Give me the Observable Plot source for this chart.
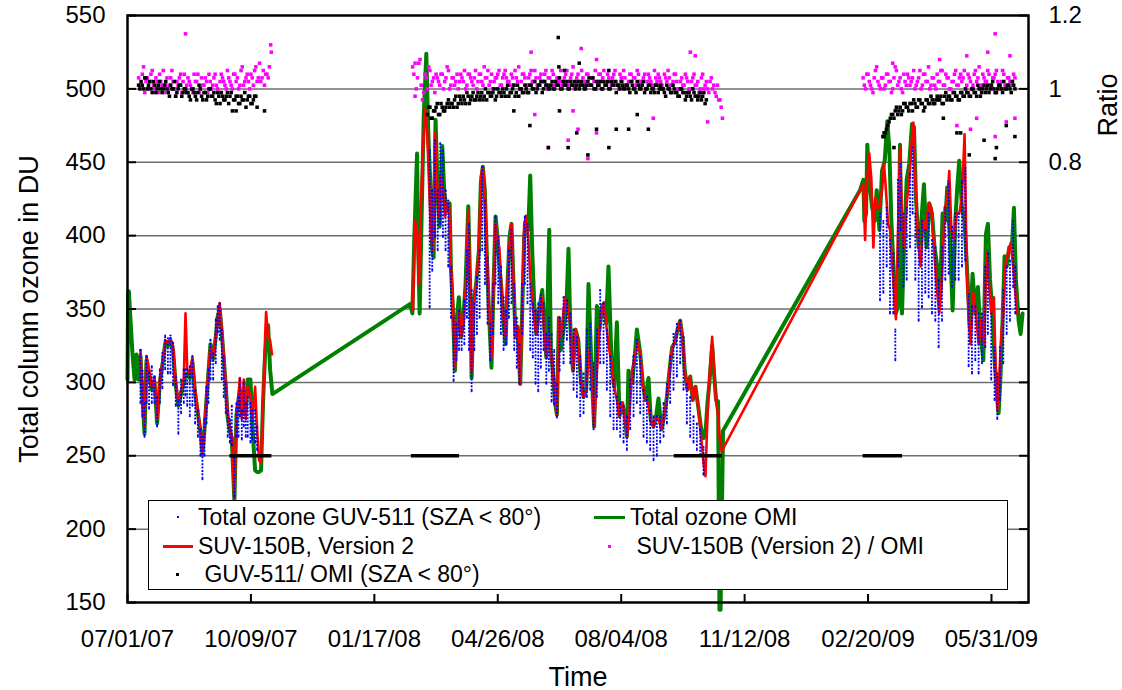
<!DOCTYPE html>
<html><head><meta charset="utf-8">
<script src="https://cdn.jsdelivr.net/npm/d3@7"></script>
<script src="https://cdn.jsdelivr.net/npm/@observablehq/plot@0.6"></script>
<style>
body{margin:0;background:#fff;}
#wrap{position:relative;width:1122px;height:690px;font-family:'Liberation Sans',Arial,sans-serif;}
#legend{position:absolute;left:148px;top:500px;width:858px;height:88px;border:1.5px solid #000;background:#fff;}
.li{position:absolute;font-size:23px;line-height:1;white-space:pre;color:#000;}
.sym{position:absolute;}
</style></head><body><div id="wrap"></div>
<script>
// ---- axis / tick labels ----
const xTickLabels = ["07/01/07","10/09/07","01/17/08","04/26/08","08/04/08","11/12/08","02/20/09","05/31/09"];
const yTicks = [150,200,250,300,350,400,450,500,550];
const gridValues = [200,250,300,350,400,450,500];
const ratioTicks = [0.8, 1, 1.2];
const ratioTickLabels = ["0.8","1","1.2"];
const spanDays = 730;

// ---- Total ozone OMI (green): [day since 07/01/07, DU] ----
const greenPts = [[0,302],[0.5,361],[1.1,362],[2.4,343],[4,320],[5.7,302],[7.3,319],[8.6,302],[10.5,318],[12.1,290],[13.8,265],[15.4,315],[17.5,305],[19.7,295],[21.9,300],[24,272],[26.2,300],[28.3,312],[30.5,326],[32.7,325],[34.8,328],[36.9,322],[39.1,298],[41.2,284],[43.4,292],[45.6,300],[47,305],[48.4,306],[50.5,303],[52.6,314],[54.8,292],[57,279],[59.1,266],[60.7,252],[62.4,268],[64,288],[65.6,307],[67.2,326],[69.4,316],[71.5,331],[73.1,345],[74.7,350],[76.4,334],[78,316],[79.6,298],[81.2,276],[82.9,267],[84.5,262],[86.6,219],[88.3,278],[89.9,288],[91,295],[92.6,278],[94.2,292],[95.8,280],[97.4,302],[99.6,302],[101.2,270],[103.4,240],[105,239],[106.6,239],[108.2,240],[109.8,286],[111.5,320],[113.9,339],[115.5,309],[117.4,292],
[229.1,353.5],[230.8,347],[232.4,399],[234.6,456],[235.6,390],[236.7,347],[238.3,413],[240,481],[242.1,524],[243.7,470],[245.3,436],[246.9,390],[248,385],[249.6,479],[251.3,431],[252.9,406],[255,461],[256.7,429],[258.8,417],[261,422],[262,379],[263.7,349],[265.3,308],[266.9,344],[268.5,358],[270.2,331],[271.8,340],[273.9,367],[276.1,420],[277.7,363],[278.8,303],[280.4,354],[282.5,367],[284.7,390],[286.3,436],[287.9,447],[289.5,431],[291.2,385],[292.8,349],[294.9,310],[296.6,367],[298.2,413],[299.8,399],[301.4,379],[303,363],[304.7,340],[306.3,326],[307.9,367],[309.5,399],[311.1,408],[312.8,367],[314.4,331],[316,338],[318.2,299],[319.8,349],[321.4,399],[323.1,413],[324.7,404],[326.3,441],[327.9,390],[329.5,354],[331.2,333],[332.8,344],[334.4,354],[336,363],[337.6,340],[339.3,317],[341.7,404],[343,322],[344.6,308],[346.3,287],[347.9,278],[349.5,344],[351.1,322],[353.3,336],[355.5,349],[357.3,391],[358.7,340],[360.9,308],[363,336],[365.2,329],[367.3,302],[369.5,290],[371.7,295],[373.5,367],[376,308],[378.1,270],[380.3,352],[382.4,336],[384.6,352],[386.2,354],[387.8,340],[389.7,379],[392.2,313],[394.3,297],[396.5,341],[398.6,277],[400.8,286],[403,277],[404.6,263],[405.9,308],[408.9,300],[411,318],[412.7,336],[415.4,320],[417.5,299],[419.7,288],[422.1,303],[424,274],[426.2,270],[428.3,277],[430.2,289],[432.7,268],[434.8,277],[437,290],[439.1,308],[441.3,324],[443.4,327],[445.6,336],[447.8,342],[449.9,329],[451.5,308],[453.7,295],[455.9,304],[458,288],[460.2,297],[462.3,284],[464.5,270],[466.7,262],[468.3,265],[469.9,286],[471.5,300],[473.7,325],[475.3,305],[476.9,288],[478.5,287],[479.6,145],[480.5,145],[482.5,267],
[593.5,431],[596.2,438],[597,410],[598.4,415],[599.4,462],[601,438],[603.2,420],[605.4,410],[607,431],[609.2,404],[611.3,444],[613.5,451],[615.6,478],[617.2,460],[618.9,410],[620.5,381],[622.6,347],[624.3,352],[625.9,462],[627.5,347],[629.1,392],[631.3,438],[633.4,449],[635.6,476],[637.2,474],[638.8,426],[641,392],[643.2,410],[645.3,435],[647.5,392],[649.6,422],[651.8,415],[653.9,392],[656.1,379],[658.3,358],[660.4,415],[662.6,410],[664.2,433],[666.4,397],[668.5,349],[670.7,410],[672.3,433],[673.9,451],[676.1,419],[678.2,410],[680.4,374],[682.6,336],[684.7,374],[686.9,347],[689,365],[691.2,333],[693.4,315],[695.5,401],[697.1,408],[698.8,370],[700.9,347],[702.5,315],[704.2,297],[705.8,279],[707.4,306],[709,342],[710.6,386],[712.3,379],[714.4,392],[716.6,392],[718.2,419],[719.8,370],[722,342],[723.6,333],[725.2,347]];

// ---- SUV-150B, Version 2 (red): [day, DU]; null breaks the line ----
const redPts = [[10.5,322],[12.1,290],[13.8,270],[15.4,318],[17.5,309],[19.7,297],[21.9,304],[24,275],[26.2,302],[28.3,313],[30.5,329],[32.7,327],[34.8,330],[36.9,325],[39.1,300],[41.2,286],[43.4,295],[45.6,302],[47,347],[48.4,309],[50.5,306],[52.6,317],[54.8,295],[57,281],[59.1,268],[60.7,250],[62.4,270],[64,290],[65.6,309],[67.2,325],[69.4,318],[71.5,331],[73.1,343],[74.7,354],[76.4,336],[78,318],[79.6,300],[81.2,279],[82.9,270],[84.5,263],[86.6,220],[88.3,279],[89.9,290],[91,303],[92.6,275],[94.2,302],[95.8,275],[97.4,297],[99.6,290],[101.2,275],[103.4,297],[105,268],[106.6,247],[108.2,245],[109.8,286],[111.5,331],[112.3,348],[113.9,331],[115.5,329],[117.1,319],[170,null],
[231.3,349],[232.9,410],[234.6,404],[236.2,367],[237.8,424],[239.4,458],[241.1,486],[242.7,472],[244.3,436],[245.9,401],[247.5,390],[249.1,470],[250.8,436],[252.4,413],[254,440],[255.7,431],[257.3,413],[258.9,422],[260.5,420],[262.1,379],[263.7,354],[265.3,310],[267,337],[268.6,349],[270.2,331],[271.8,338],[274,363],[276.1,417],[277.7,363],[278.8,308],[280.4,354],[282.5,367],[284.7,390],[286.3,440],[287.9,447],[289.5,431],[291.2,385],[292.8,354],[294.9,317],[296.6,367],[298.2,408],[299.8,399],[301.4,390],[303,363],[304.7,344],[306.3,331],[307.9,367],[309.5,394],[311.1,408],[312.8,367],[314.4,331],[316,338],[318.2,299],[319.8,349],[321.4,408],[323.1,413],[324.7,399],[326.3,372],[327.9,356],[329.5,344],[331.2,333],[332.8,344],[334.4,354],[336,358],[337.6,335],[339.3,317],[340.9,333],[343,322],[344.6,308],[346.3,287],[347.9,278],[349.5,344],[351.1,331],[352.2,340],[354.4,358],[356.5,352],[358.7,340],[360.9,308],[363,336],[365.2,329],[367.3,302],[369.5,290],[371.7,295],[373.8,322],[376,308],[378.1,270],[380.3,306],[382.4,336],[384.6,352],[386.2,354],[387.8,340],[390,324],[392.2,313],[394.3,297],[396.5,288],[398.6,277],[400.8,286],[403,277],[404.6,263],[406.7,279],[408.9,308],[411,318],[413.2,327],[415.4,320],[417.5,299],[419.7,288],[421.8,286],[424,274],[426.2,270],[428.3,277],[430.5,274],[432.7,268],[434.8,277],[437,290],[439.1,308],[441.3,324],[443.4,327],[445.6,336],[447.8,342],[449.9,329],[451.5,308],[453.7,295],[455.9,304],[458,288],[460.2,297],[462.3,284],[464.5,265],[466.7,245],[468.3,236],[469.9,277],[471.5,304],[473.7,331],[475.3,308],[476.9,286],[478.5,277],[480.2,259],[481.4,253],
[596.2,435],[597.6,397],[598.9,433],[601,456],[602.7,438],[604.3,392],[605.9,426],[607.5,419],[609.2,419],[611.3,431],[612.9,449],[614.5,431],[616.2,408],[617.8,404],[619.4,381],[621,365],[622.6,343],[624.3,404],[625.9,460],[627.5,415],[629.1,392],[631.3,422],[633.4,438],[635,460],[636.7,477],[638.3,438],[640.5,397],[642.6,379],[644.8,410],[647,404],[649.1,422],[651.3,419],[653.4,392],[655.6,365],[657.7,347],[659.9,370],[662.1,419],[664.2,424],[665.8,444],[667.5,404],[669.6,397],[671.8,415],[673.9,415],[676.1,426],[678.2,469],[679.9,381],[681.5,343],[683.1,326],[685.3,361],[687.4,347],[689.6,326],[691.7,343],[693.9,326],[696.1,388],[698.2,365],[699.8,347],[702,358],[703.6,302],[704.7,281],[706.3,302],[708,333],[709.6,347],[711.2,379],[713.3,388],[715.5,395],[717.6,379],[719.3,361],[720.9,347]];

// ---- Total ozone GUV-511 (blue): [day, low DU, high DU] spread of readings ----
const bluePts = [[10.5,286,322],[12.1,277,308],[13.8,263,286],[15.4,286,318],[17.5,282,307],[19.7,286,311],[21.9,286,304],[24,270,290],[26.2,286,309],[28.3,296,320],[30.5,309,332],[32.7,306,330],[34.8,306,332],[36.9,298,327],[39.1,284,304],[41.2,265,288],[43.4,279,302],[45.6,286,309],[47,291,309],[48.4,284,309],[50.5,277,311],[52.6,284,318],[54.8,272,295],[57,263,281],[59.1,250,268],[60.7,234,263],[62.4,250,275],[64,272,297],[65.6,286,309],[67.2,302,329],[69.4,302,320],[71.5,313,343],[73.1,334,352],[74.7,329,354],[76.4,302,336],[78,290,318],[79.6,279,300],[81.2,263,281],[82.9,259,275],[84.5,257,284],[86.6,222,250],[88.3,263,286],[89.9,263,290],[91,277,302],[92.6,261,281],[94.2,270,300],[95.8,263,286],[97.4,263,290],[99.6,259,286],[101.2,261,281],[103.4,259,281],[105,254,270],
[244.8,351,458],[246.9,376,431],[249.1,399,465],[251.3,390,431],[253.4,408,463],[255.6,399,458],[257.7,390,431],[259.9,379,424],[262.1,344,379],[264.2,301,344],[266.4,315,340],[268.6,322,349],[270.7,322,338],[272.9,326,356],[275,344,390],[276.7,322,408],[278.8,294,363],[281,322,354],[283.1,333,372],[285.3,344,390],[287.4,390,447],[289.6,367,424],[291.7,340,385],[293.9,315,340],[296.1,333,367],[298.2,367,413],[300.4,354,399],[302.5,333,379],[304.7,322,358],[306.8,326,349],[309,344,390],[311.1,354,404],[313.3,322,367],[315.4,310,344],[317.6,299,326],[319.8,333,367],[321.9,367,413],[324.1,354,408],[326.3,322,367],[328.4,317,354],[330.6,299,349],[332.8,294,354],[334.9,310,360],[337.1,322,354],[339.3,299,333],[341.4,308,344],[343.6,287,333],[345.7,285,322],[347.9,276,299],[350.1,308,344],[353.3,313,358],[356,329,356],[358.7,313,347],[361.4,295,336],[364.1,290,331],[366.8,277,318],[369.5,279,306],[372.2,290,336],[374.9,295,340],[377.6,268,313],[380.3,290,336],[383,313,363],[385.7,313,354],[388.4,295,336],[391.1,277,318],[393.8,268,302],[396.5,268,290],[399.2,263,286],[401.9,259,284],[404.6,254,277],[407.3,268,302],[410,277,318],[412.7,286,329],[415.4,279,318],[418.1,263,295],[420.8,259,290],[423.5,254,281],[426.2,247,277],[428.9,250,277],[431.6,259,277],[434.3,263,286],[437,272,299],[439.7,286,318],[442.4,295,333],[445.1,304,340],[447.8,313,342],[450.5,295,331],[453.2,272,299],[455.9,263,290],[458.6,259,277],[461.3,254,272],[464,250,268],[466.7,237,256],
[609.7,356,415],[612.4,361,410],[615.1,379,419],[617.8,347,397],[620.5,347,388],[622.1,315,336],[624.3,379,438],[626.4,404,449],[628.6,365,415],[631.3,370,419],[634,392,442],[636.1,415,460],[638.3,370,415],[641,342,404],[643.7,351,410],[646.4,361,404],[649.1,358,415],[651.8,347,397],[654.5,342,392],[657.2,324,370],[659.9,342,392],[662.6,370,419],[665.3,374,437],[668,365,406],[670.7,370,415],[673.4,370,415],[676.1,379,437],[678.8,383,446],[681.5,311,360],[684.2,306,352],[686.9,315,352],[689.6,306,347],[692.3,313,347],[695,324,379],[697.1,333,388],[699.8,302,347],[702.5,288,324],[704.7,275,306],[706.9,288,324],[709.6,313,363],[712.3,333,379],[715,342,383],[717.6,365,410],[719.3,347,379]];

// ---- Ratios in percent: run A read every 2 days from the start day, run B every 2 days from start+1 ----
const pinkStarts = [9, 231, 596];
const pinkP1 = [103,101,106,102,100,104,101,103,99,102,105,101,100,103,102,98,101,104,102,100,103,101,99,102,104,100,101,103,99,102,101,104,100,102,103,101,105,102,100,104,103,101,106,102,104,100,103,105,102,107,103,101,104,106];
const pinkP2 = [106,98,103,108,97,104,100,105,102,99,103,101,104,102,106,100,103,101,104,102,103,105,101,104,102,103,100,104,102,106,103,101,104,102,103,105,101,104,103,102,104,101,103,106,102,104,101,103,105,102,103,101,104,102,105,103,101,104,102,103,105,102,104,101,103,106,102,104,101,103,102,104,101,103,105,102,104,103,101,104,102,103,105,101,104,102,103,101,104,102,103,105,102,101,104,102,103,101,105,102,103,101,104,102,103,101,104,102,100,103,101,103,100,102,104,101,99,103,100,102,99,103,101,98,97,95];
const pinkP3 = [103,100,104,101,99,105,102,100,103,101,104,102,100,106,101,103,99,102,104,101,103,100,102,105,101,104,102,100,103,101,104,102,105,101,103,100,102,104,101,103,102,105,101,103,100,104,102,106,101,103,102,104,100,103,105,101,102,104,100,103,102,104];
const pinkP1b = [101,104,99,103,102,105,100,102,104,101,99,103,101,105,100,102,103,99,104,101,102,100,104,102,99,103,101,102,104,100,103,101,99,104,102,100,103,101,104,102,100,105,101,103,102,104,101,106,103,102,105,104,103];
const pinkP2b = [104,100,107,101,99,103,106,101,103,104,102,104,100,103,105,101,103,102,100,104,102,100,104,103,101,105,102,104,101,103,105,102,100,103,104,101,103,105,102,101,103,105,102,100,104,103,101,104,102,105,101,103,102,104,100,103,105,101,103,102,101,103,105,102,104,100,103,102,105,101,104,101,103,102,100,104,102,105,101,103,101,104,102,100,103,105,101,102,104,103,101,104,102,103,100,104,102,101,103,104,102,100,103,105,101,102,104,100,102,101,104,102,100,103,101,102,100,104,101,100,102,100,99,101,97];
const pinkP3b = [101,104,102,100,103,106,101,103,100,104,102,99,103,105,102,100,104,101,103,102,105,101,103,100,104,102,106,101,103,100,102,105,101,104,103,100,102,105,101,104,103,100,104,102,101,105,103,100,104,102,105,101,103,104,102,100,105,101,103,102,101,103];
const blackStarts = [9, 243, 612];
const blackP1 = [101,102,100,103,101,100,102,99,101,100,100,102,99,101,100,98,100,101,99,100,99,97,100,98,99,100,97,99,98,100,98,97,99,96,98,97,99,98,94,97,98,96,97,99,97,98,96,98,95];
const blackP2 = [93,95,92,94,96,93,95,94,96,95,96,97,95,98,96,97,99,96,98,97,98,97,99,98,97,99,98,100,98,99,98,99,100,98,99,101,99,98,100,99,100,99,101,100,99,101,102,100,101,100,101,100,102,101,100,102,101,100,102,101,100,102,101,101,100,102,101,103,100,101,102,100,101,102,100,101,102,101,100,101,100,101,99,101,100,102,100,101,99,100,101,100,99,101,100,100,99,101,100,99,100,99,98,100,99,98,99,97,99,98,98,97,99,97];
const blackP3 = [87,88,90,92,93,94,93,95,94,96,95,96,94,96,95,97,96,95,97,96,97,96,98,97,96,98,97,98,97,99,98,97,99,98,99,98,100,99,98,100,99,101,100,99,101,100,99,101,100,102,100,101,99,101];
const blackP1b = [100,101,103,100,102,99,101,100,102,99,101,100,98,100,102,99,101,98,100,99,98,100,99,97,101,98,99,97,100,98,99,96,98,99,97,98,96,99,97,98,96,98,97,95,98,96,97,98];
const blackP2b = [95,92,94,95,93,96,94,95,97,96,95,98,96,97,98,96,98,97,99,97,99,98,97,100,99,98,99,97,100,99,100,98,101,99,100,98,101,100,99,101,99,101,100,102,100,101,99,102,101,100,102,100,101,103,100,101,102,100,101,102,101,100,102,100,101,103,101,100,102,101,100,102,101,100,102,101,99,101,102,100,101,100,102,100,99,101,100,102,100,101,99,100,101,99,101,100,98,100,99,101,99,98,100,99,97,99,98,100,98,97,99,98,96];
const blackP3b = [88,89,91,93,92,95,94,93,96,95,94,96,97,95,97,96,94,97,96,98,96,97,97,98,96,99,98,97,99,98,97,99,98,100,99,98,100,99,101,98,100,99,101,100,102,99,100,101,99,100,101,100,102,100];
const pinkOutliers = [[47,115],[116,112],[116.5,110],[233,107],[327,110],[367.6,111],[380,108],[456,110],[460,109],[330,93],[341,84],[357,86],[365,89],[373,81],[380,88],[361,94],[426,92],[470,91],[482,92],[703,115],[715,109],[680,109],[697,110],[658,108],[620,107],[683,89],[703,87],[712,91],[719,92],[672,90],[688,92]];
const blackOutliers = [[88,94],[111,94],[349,114],[349.5,106],[354,105],[366,107],[390,105],[326,90],[313,94],[341,84],[350,94],[357,84],[364,88],[373,82],[380,89],[390,84],[396,89],[406,89],[422,89],[413,93],[703,81],[704,84],[694,86],[682,82],[719,87],[712,90],[672,88],[675,88],[661,92],[613,87],[621,84]];
// GUV-511/OMI recorded as 0 (no reading): day spans
const zeroSpanStart = [83, 230, 443, 596];
const zeroSpanEnd = [117, 269, 482, 628];

// ---- helpers ----
const parse = d3.utcParse("%m/%d/%y");
const t0 = parse(xTickLabels[0]);
const toDate = d => new Date(+t0 + d * 864e5);
const ratioToDU = r => 250 + 250 * r;   // right axis: 1 -> 500 DU, 0.2 -> 50 DU
const tickDates = xTickLabels.map(parse);
const labelByTime = new Map(tickDates.map((d, i) => [+d, xTickLabels[i]]));
const ratioDU = ratioTicks.map(ratioToDU);

const green = greenPts.map(([d, v]) => ({t: toDate(d), v}));
const red = redPts.map(([d, v]) => ({t: toDate(d), v}));
const blue = bluePts.map(([d, lo, hi]) => ({t: toDate(d), lo, hi}));
function runs(starts, arrs, offset) {
  const out = [];
  arrs.forEach((a, k) => a.forEach((p, i) => out.push({t: toDate(starts[k] + offset + 2 * i), v: ratioToDU(p / 100)})));
  return out;
}
const outl = list => list.map(([d, p]) => ({t: toDate(d), v: ratioToDU(p / 100)}));
const pink = runs(pinkStarts, [pinkP1, pinkP2, pinkP3], 0).concat(runs(pinkStarts, [pinkP1b, pinkP2b, pinkP3b], 1), outl(pinkOutliers));
const black = runs(blackStarts, [blackP1, blackP2, blackP3], 0).concat(runs(blackStarts, [blackP1b, blackP2b, blackP3b], 1), outl(blackOutliers));
const zeros = zeroSpanStart.map((s, i) => ({a: toDate(s), b: toDate(zeroSpanEnd[i])}));

const W = 1122, H = 690, mL = 127, mR = 94, mT = 15, mB = 88;
const pw = W - mL - mR, ph = H - mT - mB;
const FONT = "'Liberation Sans', Arial, sans-serif";

const chart = Plot.plot({
  width: W, height: H,
  marginLeft: mL, marginRight: mR, marginTop: mT, marginBottom: mB,
  style: {fontFamily: FONT, background: "white", overflow: "visible"},
  x: {type: "utc", domain: [t0, toDate(spanDays)]},
  y: {domain: [150, 550]},
  marks: [
    Plot.ruleY(gridValues, {stroke: "#6e6e6e", strokeWidth: 1.5}),
    Plot.line(green, {x: "t", y: "v", stroke: "#008000", strokeWidth: 4, strokeLinejoin: "round"}),
    Plot.line(red, {x: "t", y: "v", stroke: "#ff0000", strokeWidth: 2.6, strokeLinejoin: "round"}),
    Plot.ruleX(blue, {x: "t", y1: "lo", y2: "hi", stroke: "#0000ff", strokeWidth: 1.8, strokeDasharray: "2,1.4"}),
    Plot.dot(blue, {x: "t", y: "lo", r: 1, fill: "#0000ff"}),
    Plot.dot(blue, {x: "t", y: "hi", r: 1, fill: "#0000ff"}),
    Plot.ruleY(zeros, {y: () => ratioToDU(0), x1: "a", x2: "b", stroke: "black", strokeWidth: 3.5}),
    Plot.dot(pink, {x: "t", y: "v", symbol: "square", r: 2, fill: "#ff00ff"}),
    Plot.dot(black, {x: "t", y: "v", symbol: "square", r: 2, fill: "black"}),
    Plot.frame({stroke: "black", strokeWidth: 2.5}),
    Plot.tickY(yTicks, {y: d => d, stroke: "black", strokeWidth: 2, insetRight: pw - 9}),
    Plot.tickY(yTicks, {y: d => d, stroke: "black", strokeWidth: 2, insetLeft: pw - 9}),
    Plot.tickX(tickDates, {x: d => d, stroke: "black", strokeWidth: 2, insetTop: ph - 8}),
    Plot.axisY({ticks: yTicks, tickSize: 0, tickPadding: 22, fontSize: 24, label: null}),
    Plot.axisY({anchor: "right", ticks: ratioDU, tickFormat: d => ratioTickLabels[ratioDU.indexOf(d)], tickSize: 0, tickPadding: 20, fontSize: 24, label: null}),
    Plot.axisX({ticks: tickDates, tickFormat: d => labelByTime.get(+d), tickSize: 0, tickPadding: 27, fontSize: 24, label: null}),
    Plot.text(["Total column ozone in DU"], {frameAnchor: "left", textAnchor: "middle", rotate: -90, dx: -109, lineAnchor: "top", fontSize: 27}),
    Plot.text(["Time"], {frameAnchor: "bottom", dy: 83, lineAnchor: "bottom", fontSize: 27}),
    Plot.text(["Ratio"], {frameAnchor: "right", textAnchor: "middle", y: [489], rotate: -90, dx: 88, lineAnchor: "bottom", fontSize: 27})
  ]
});
const wrap = document.getElementById("wrap");
wrap.appendChild(chart);

// ---- legend (inside the plot area, white box) ----
const legendItems = [
  {type: "dot", color: "#0000ff", size: 2, sx: 177, sy: 516, text: "Total ozone GUV-511 (SZA < 80°)", tx: 198, ty: 506},
  {type: "line", color: "#ff0000", w: 30, h: 3, sx: 163, sy: 545, text: "SUV-150B, Version 2", tx: 198, ty: 535},
  {type: "dot", color: "#000000", size: 3, sx: 176, sy: 573, text: " GUV-511/ OMI (SZA < 80°)", tx: 198, ty: 563},
  {type: "line", color: "#008000", w: 31, h: 3.5, sx: 594, sy: 515.5, text: "Total ozone OMI", tx: 630, ty: 506},
  {type: "dot", color: "#ff00ff", size: 3, sx: 607.5, sy: 544.5, text: " SUV-150B (Version 2) / OMI", tx: 630, ty: 535}
];
const lg = document.createElement("div"); lg.id = "legend"; wrap.appendChild(lg);
for (const it of legendItems) {
  const s = document.createElement("div"); s.className = "sym";
  s.style.left = it.sx + "px"; s.style.top = it.sy + "px"; s.style.background = it.color;
  s.style.width = (it.type === "dot" ? it.size : it.w) + "px";
  s.style.height = (it.type === "dot" ? it.size : it.h) + "px";
  wrap.appendChild(s);
  const t = document.createElement("div"); t.className = "li";
  t.style.left = it.tx + "px"; t.style.top = it.ty + "px"; t.textContent = it.text;
  wrap.appendChild(t);
}
chart.style.position = "absolute"; chart.style.left = "0"; chart.style.top = "0";
</script></body></html>
